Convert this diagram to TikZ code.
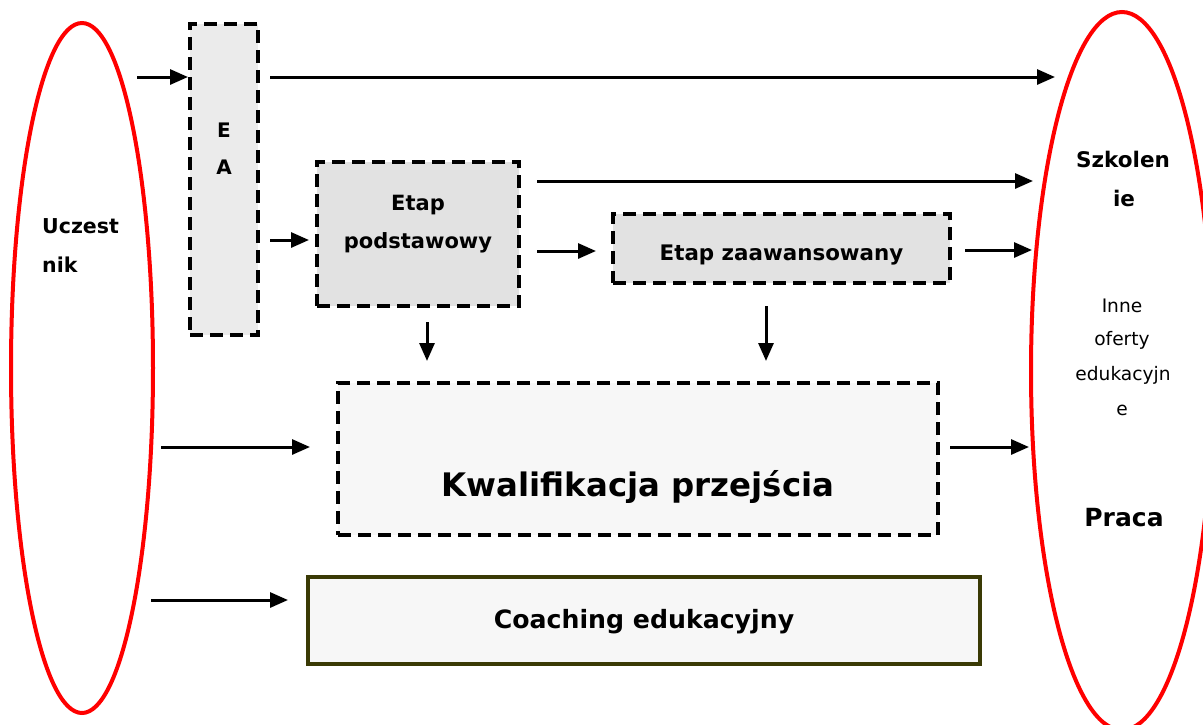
\documentclass[tikz,border=0pt]{standalone}
\usepackage{fontspec}
\setmainfont{DejaVu Sans}
\usetikzlibrary{shapes.geometric,arrows.meta}
\definecolor{boxgray}{HTML}{E2E2E2}
\definecolor{eagray}{HTML}{EBEBEB}
\definecolor{lightfill}{HTML}{F7F7F7}
\definecolor{olive}{HTML}{3A3A05}
\tikzset{
  oval/.style={draw=red, line width=4pt, ellipse, inner sep=0pt},
  dbox/.style={draw=black, line width=4pt, dash pattern=on 13pt off 7pt, inner sep=0pt},
  arr/.style={line width=3pt, -{Triangle[length=18pt,width=15pt]}},
  bt/.style={font=\bfseries\fontsize{21}{25}\selectfont, inner sep=0pt},
}
\begin{document}
\begin{tikzpicture}[x=1pt,y=-1pt]
\useasboundingbox (0,0) rectangle (1203,724);
% ellipses
\node[oval, minimum width=142pt, minimum height=690pt] (uc) at (82,368) {};
\node[oval, minimum width=182pt, minimum height=718pt] (out) at (1122,371) {};
% boxes
\node[dbox, fill=eagray, minimum width=68pt, minimum height=311pt] (ea) at (224,179.5) {};
\node[dbox, fill=boxgray, minimum width=202pt, minimum height=144pt] (ep) at (418,234) {};
\node[dbox, fill=boxgray, minimum width=337pt, minimum height=69pt] (ez) at (781.5,248.5) {};
\node[dbox, fill=lightfill, minimum width=600pt, minimum height=152pt] (kw) at (638,459) {};
\node[draw=olive, line width=4.5pt, fill=lightfill, inner sep=0pt, minimum width=672pt, minimum height=87pt] (co) at (644,620.5) {};
% texts
\node[bt, font=\bfseries\fontsize{20.5}{25}\selectfont, anchor=west] (t1) at (42,226) {Uczest};
\node[bt, font=\bfseries\fontsize{20.5}{25}\selectfont, anchor=west] (t2) at (42,265) {nik};
\node[bt, font=\bfseries\fontsize{20}{25}\selectfont] (e1) at (224,130) {E};
\node[bt, font=\bfseries\fontsize{20}{25}\selectfont] (e2) at (224,167) {A};
\node[bt] (p1) at (418,205) {Etap};
\node[bt] (p2) at (418,243) {podstawowy};
\node[bt, font=\bfseries\fontsize{21.4}{25}\selectfont] (z1) at (781.5,255) {Etap zaawansowany};
\node[bt, font=\bfseries\fontsize{32.4}{38}\selectfont] (k1) at (638,487) {Kwalifikacja przejścia};
\node[bt, font=\bfseries\fontsize{25.2}{30}\selectfont] (c1) at (644,622) {Coaching edukacyjny};
\node[bt, font=\bfseries\fontsize{21.5}{25}\selectfont] (s1) at (1123,159) {Szkolen};
\node[bt, font=\bfseries\fontsize{21.5}{25}\selectfont] (s2) at (1124,198) {ie};
\node[inner sep=0pt, font=\fontsize{18.6}{22}\selectfont] (i1) at (1122,306) {Inne};
\node[inner sep=0pt, font=\fontsize{18.6}{22}\selectfont] (i2) at (1122,340) {oferty};
\node[inner sep=0pt, font=\fontsize{18.6}{22}\selectfont] (i3) at (1123,375) {edukacyjn};
\node[inner sep=0pt, font=\fontsize{18.6}{22}\selectfont] (i4) at (1122,410) {e};
\node[bt, font=\bfseries\fontsize{25}{30}\selectfont] (pr) at (1124,518) {Praca};
% arrow end coordinates
\coordinate (a1s) at (137,77);
\coordinate (a2s) at (270,77);   \coordinate (a2e) at (1055,77);
\coordinate (a3s) at (270,240);  \coordinate (a3e) at (309,240);
\coordinate (a4s) at (537,181);  \coordinate (a4e) at (1033,181);
\coordinate (a5s) at (537,251);  \coordinate (a5e) at (596,251);
\coordinate (a6s) at (965,250);  \coordinate (a6e) at (1032,250);
\coordinate (a7s) at (427,322);  \coordinate (a7e) at (427,361);
\coordinate (a8s) at (766,306);  \coordinate (a8e) at (766,361);
\coordinate (a9s) at (161,447);  \coordinate (a9e) at (310,447);
\coordinate (a10s) at (950,447); \coordinate (a10e) at (1029,447);
\coordinate (a11s) at (151,600); \coordinate (a11e) at (288,600);
% arrows
\draw[arr] (a1s) -- (ea.west |- a1s);
\draw[arr] (a2s) -- (a2e);
\draw[arr] (a3s) -- (a3e);
\draw[arr] (a4s) -- (a4e);
\draw[arr] (a5s) -- (a5e);
\draw[arr] (a6s) -- (a6e);
\draw[arr] (a7s) -- (a7e);
\draw[arr] (a8s) -- (a8e);
\draw[arr] (a9s) -- (a9e);
\draw[arr] (a10s) -- (a10e);
\draw[arr] (a11s) -- (a11e);
\end{tikzpicture}
\end{document}
